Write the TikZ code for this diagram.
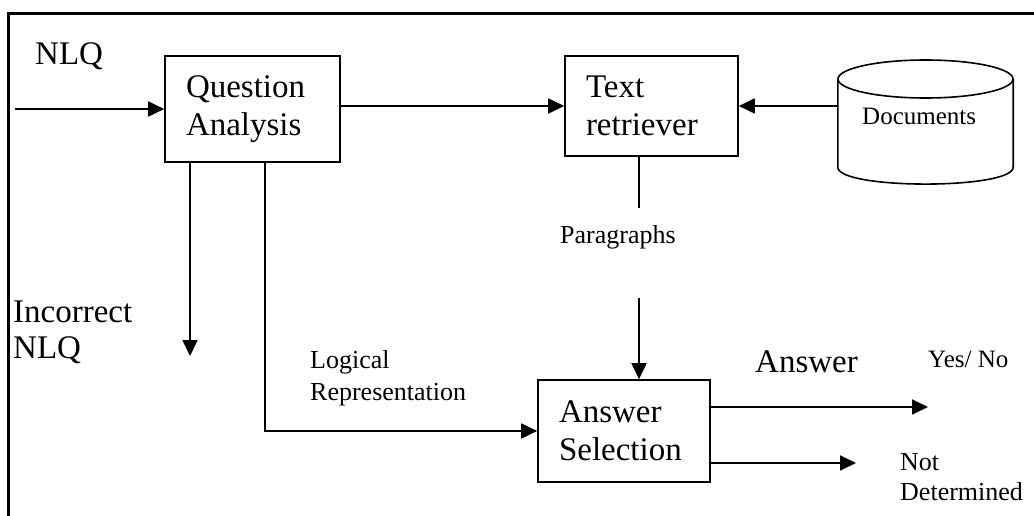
\documentclass[tikz,border=0pt]{standalone}
\usepackage{fontspec}
\setmainfont{Liberation Serif}
\usetikzlibrary{arrows.meta}
\begin{document}
\begin{tikzpicture}[x=1pt,y=-1pt,
  box/.style={draw, line width=1.6pt, inner xsep=21pt, inner ysep=0pt, align=left, font=\fontsize{33}{38}\selectfont},
  arr/.style={line width=1.8pt, -{Triangle[length=16pt,width=15pt]}},
  ln/.style={line width=1.8pt},
  big/.style={font=\fontsize{33}{36}\selectfont, inner sep=0pt, align=left},
  med/.style={font=\fontsize{26}{32}\selectfont, inner sep=0pt, align=left}]
\useasboundingbox (0,0) rectangle (1034,516);
\clip (0,0) rectangle (1034,516);
\draw[line width=3pt] (8,516) -- (8,14) -- (1034,14);

% boxes
\node[box, text width=133pt, minimum height=106pt] (qa) at (252.5,109) {Question\\Analysis};
\node[box, text width=131pt, minimum height=100pt] (tr) at (651.5,106) {Text\\retriever};
\node[box, text width=130pt, minimum height=102pt] (as) at (624,431) {Answer\\Selection};

% documents cylinder
\node[minimum width=175pt, minimum height=88pt, inner sep=0pt] (docs) at (925.5,123) {};
\draw[line width=1.6pt] (925.5,79) ellipse [x radius=87.5, y radius=19];
\draw[line width=1.6pt] (docs.north west) -- (docs.south west) .. controls (838,189.7) and (1013,189.7) .. (docs.south east) -- (docs.north east);
\node[anchor=base west, inner sep=0pt, font=\fontsize{25}{30}\selectfont] (doclbl) at (862,125) {Documents};

% labels (base anchor of a multi-line node = baseline of its last line)
\node[big, anchor=base west] (nlq) at (35,65) {NLQ};
\node[big, anchor=base west] (incnlq) at (13,358) {Incorrect\\NLQ};
\node[med, anchor=base west] (logrep) at (310,400) {Logical\\Representation};
\node[med, anchor=base west] (para) at (560,243) {Paragraphs};
\node[big, anchor=base west] (anslbl) at (755,372) {Answer};
\node[anchor=base west, inner sep=0pt, font=\fontsize{25}{30}\selectfont] (yesno) at (928,367) {Yes/ No};
\node[anchor=base west, inner sep=0pt, align=left, font=\fontsize{26}{30}\selectfont] (notdet) at (900,500) {Not\\Determined};

% free ends
\coordinate (nlqin) at (15,109);
\coordinate (inc) at (190,356);
\coordinate (lr) at (265,431);
\coordinate (p1) at (639,208);
\coordinate (p2) at (639,298);
\coordinate (yn) at (928,407);
\coordinate (nd) at (856,463);

% connectors
\draw[arr] (nlqin) -- (qa.west);
\draw[arr] (qa.east |- tr.west) -- (tr.west);
\draw[arr] (docs.west |- tr.east) -- (tr.east);
\draw[ln] (tr.south -| p1) -- (p1);
\draw[arr] (p2) -- (as.north -| p2);
\draw[arr] (qa.south -| inc) -- (inc);
\draw[arr] (qa.south -| lr) |- (as.west);
\draw[arr] (as.east |- yn) -- (yn);
\draw[arr] (as.east |- nd) -- (nd);
\end{tikzpicture}
\end{document}
